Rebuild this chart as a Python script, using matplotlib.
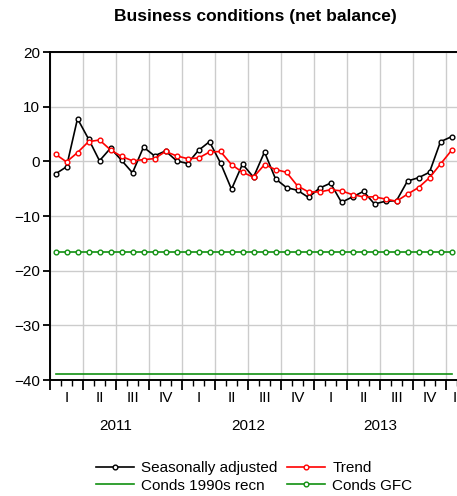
#!/usr/bin/env python
"""Business conditions (net balance): monthly SA series, trend and two reference levels."""
import matplotlib
matplotlib.use("Agg")
import matplotlib.pyplot as plt
from matplotlib.ticker import MultipleLocator
import matplotlib.transforms as mtransforms

plt.rcParams["font.family"] = ["Liberation Sans", "DejaVu Sans"]

# monthly observations, Jan 2011 .. Jan 2014
seasonally_adjusted = [-2.3, -1.0, 7.8, 4.1, 0.1, 2.4, 0.2, -2.1, 2.6, 1.0, 1.9, 0.1,
                       -0.4, 2.0, 3.6, -0.3, -5.1, -0.5, -2.9, 1.7, -3.2, -4.8, -5.3, -6.6,
                       -4.9, -4.0, -7.5, -6.5, -5.5, -7.8, -7.3, -7.2, -3.6, -3.0, -2.0, 3.6,
                       4.5]
trend = [1.3, -0.1, 1.6, 3.6, 3.9, 2.1, 0.9, 0.1, 0.3, 0.5, 1.8, 1.0,
         0.5, 0.6, 1.7, 1.8, -0.6, -2.0, -2.9, -0.6, -1.5, -2.0, -4.5, -5.6,
         -5.6, -5.2, -5.4, -6.1, -6.5, -6.5, -6.9, -7.3, -6.0, -4.8, -3.0, -0.5,
         2.0]
conds_1990s_recn = -38.9
conds_gfc = -16.5

years = ["2011", "2012", "2013"]
quarters = ["I", "II", "III", "IV"]

n = len(seasonally_adjusted)
x = [i + 0.5 for i in range(n)]
x_end = 37.6
FS = 11

fig = plt.figure(figsize=(4.57, 4.96), dpi=100)
ax = fig.add_axes([50 / 457, 116 / 496, x_end * 11.0 / 457, 328 / 496])

mk = dict(marker="o", markersize=3.4, markerfacecolor="white", markeredgewidth=1.0)
green = "#119011"
h_sa, = ax.plot(x, seasonally_adjusted, color="black", lw=1.2,
                label="Seasonally adjusted", **mk)
h_tr, = ax.plot(x, trend, color="red", lw=1.2, label="Trend", **mk)
h_90, = ax.plot([x[0], x[-1]], [conds_1990s_recn] * 2, color=green, lw=1.2,
                label="Conds 1990s recn")
h_gfc, = ax.plot(x, [conds_gfc] * n, color=green, lw=1.2, label="Conds GFC", **mk)

ax.set_xlim(0, x_end)
ax.set_ylim(-40, 20)
ax.yaxis.set_major_locator(MultipleLocator(10))
ax.xaxis.set_major_locator(MultipleLocator(3))
ax.xaxis.set_minor_locator(MultipleLocator(1))
ax.set_xticklabels([])
ax.tick_params(axis="x", which="major", direction="out", length=7, width=1.3)
ax.tick_params(axis="x", which="minor", direction="out", length=4, width=1.0)
ax.tick_params(axis="y", direction="out", length=5, width=1.3, labelsize=FS, pad=2)
ax.grid(True, which="major", color="#cccccc", lw=1.0)
ax.set_axisbelow(True)
for s in ("left", "bottom", "top"):
    ax.spines[s].set_linewidth(1.4)
ax.spines["right"].set_visible(False)

# quarter and year labels below the axis
trans = mtransforms.blended_transform_factory(ax.transData, ax.transAxes)
q = 0
while q * 3 < x_end:
    lo, hi = q * 3, min(q * 3 + 3, x_end)
    ax.text((lo + hi) / 2, -0.055, quarters[q % 4], transform=trans,
            ha="center", va="center", fontsize=FS, clip_on=False)
    q += 1
for i, yr in enumerate(years):
    ax.text(i * 12 + 6, -0.14, yr, transform=trans, ha="center", va="center",
            fontsize=FS)

fig.text(255 / 457, 1 - 17 / 496, "Business conditions (net balance)",
         ha="center", va="center", fontsize=12.5, fontweight="bold")

# column-first fill: rows read SA / Trend, then 1990s / GFC
fig.legend([h_sa, h_90, h_tr, h_gfc],
           ["Seasonally adjusted", "Conds 1990s recn", "Trend", "Conds GFC"],
           loc="center", bbox_to_anchor=(254 / 457, 1 - 477 / 496), ncol=2,
           frameon=False, fontsize=FS, handlelength=2.5, handletextpad=0.45,
           columnspacing=0.65, labelspacing=0.22, borderpad=0)

fig.savefig("out.png", dpi=100)
